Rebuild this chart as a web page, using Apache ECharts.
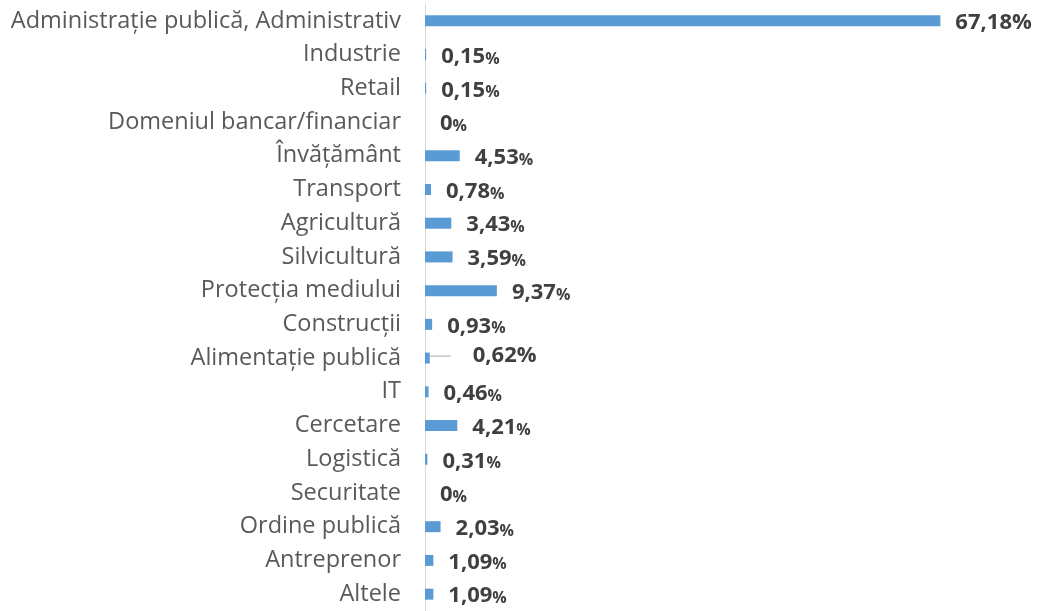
<!DOCTYPE html>
<html>
<head>
<meta charset="utf-8">
<script src="https://cdn.jsdelivr.net/npm/echarts@6/dist/echarts.min.js"></script>
<style>
  html, body { margin: 0; padding: 0; background: #fff; }
  #chart { width: 1046px; height: 611px; }
</style>
</head>
<body>
<div id="chart"></div>
<script>
// domenii si procente
var categories = ['Administrație publică, Administrativ', 'Industrie', 'Retail', 'Domeniul bancar/financiar',
  'Învățământ', 'Transport', 'Agricultură', 'Silvicultură', 'Protecția mediului', 'Construcții',
  'Alimentație publică', 'IT', 'Cercetare', 'Logistică', 'Securitate', 'Ordine publică', 'Antreprenor', 'Altele'];
var values = [67.18, 0.15, 0.15, 0, 4.53, 0.78, 3.43, 3.59, 9.37, 0.93, 0.62, 0.46, 4.21, 0.31, 0, 2.03, 1.09, 1.09];
// etichete cu % mare
var bigPercent = [0, 10];
var movedLabel = 10;

var chart = echarts.init(document.getElementById('chart'));

var data = values.map(function (v, i) {
  var d = { value: v };
  if (i === movedLabel) {
    d.labelLine = { show: true, smooth: 0.3, lineStyle: { color: '#a6a6a6', width: 1 } };
  }
  return d;
});

chart.setOption({
  animation: false,
  grid: { left: 425, right: 84, top: 4, bottom: -4, containLabel: false },
  xAxis: {
    type: 'value', min: 0, max: 70,
    show: false
  },
  yAxis: {
    type: 'category',
    data: categories,
    inverse: true,
    axisTick: { show: false },
    axisLine: { show: true, lineStyle: { color: '#d9d9d9', width: 1 } },
    axisLabel: {
      color: '#595959', fontSize: 23.5, fontFamily: 'Open Sans', margin: 24
    }
  },
  series: [{
    type: 'bar',
    data: data,
    barWidth: 11,
    itemStyle: { color: '#5b9bd5' },
    label: {
      show: true,
      position: 'right',
      distance: 15,
      formatter: function (p) {
        var s = String(p.value).replace('.', ',');
        var big = bigPercent.indexOf(p.dataIndex) >= 0;
        var pre = p.dataIndex === movedLabel ? '{s|}' : '';
        return pre + '{n|' + s + '}{' + (big ? 'n' : 'p') + '|%}';
      },
      rich: {
        s: { width: 22 },
        n: { fontSize: 22, fontWeight: 'bold', color: '#404040', fontFamily: 'Open Sans' },
        p: { fontSize: 16, fontWeight: 'bold', color: '#404040', fontFamily: 'Open Sans', padding: [5, 0, 0, 0] }
      }
    },
    labelLine: { show: false },
    labelLayout: function (params) {
      if (params.dataIndex === movedLabel) {
        return { dx: 6, dy: -2 };
      }
      return { dy: 2 };
    }
  }]
});
</script>
</body>
</html>
